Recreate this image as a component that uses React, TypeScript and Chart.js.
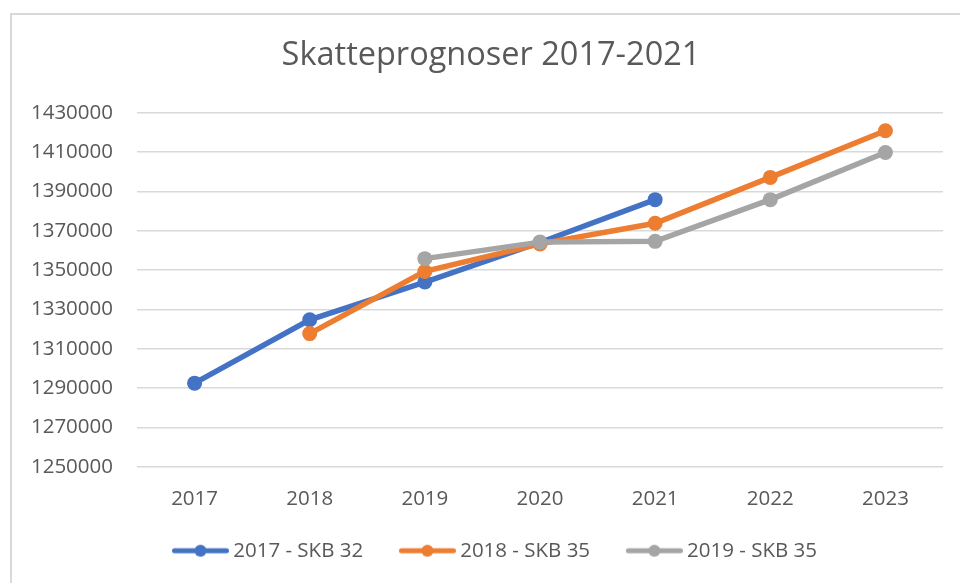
import React, { useEffect, useRef } from "react";
import { Chart, registerables } from "chart.js";

Chart.register(...registerables);

const categories = ["2017", "2018", "2019", "2020", "2021", "2022", "2023"];
const skb2017_32 = [1292500, 1324700, 1343900, 1364000, 1385800, null, null];
const skb2018_35 = [null, 1317700, 1349300, 1363300, 1373800, 1397100, 1420800];
const skb2019_35 = [null, null, 1355800, 1364200, 1364600, 1385800, 1409800];
const seriesNames = ["2017 - SKB 32", "2018 - SKB 35", "2019 - SKB 35"];
const seriesColors = ["#4472C4", "#ED7D31", "#A5A5A5"];
const yMin = 1250000;
const yMax = 1430000;
const yStep = 20000;
const chartTitle = "Skatteprognoser 2017-2021";

const FONT = "'Open Sans', 'Noto Sans', sans-serif";
const TEXT = "#595959";

// legend marker: line with a dot, drawn in the right part of a wider transparent image
function makeLegendImage(color: string): HTMLCanvasElement {
  const c = document.createElement("canvas");
  c.width = 70;
  c.height = 16;
  const ctx = c.getContext("2d")!;
  ctx.strokeStyle = color;
  ctx.lineWidth = 5;
  ctx.lineCap = "round";
  ctx.beginPath();
  ctx.moveTo(15.5, 8);
  ctx.lineTo(67.5, 8);
  ctx.stroke();
  ctx.fillStyle = color;
  ctx.beginPath();
  ctx.arc(41.5, 8, 6, 0, Math.PI * 2);
  ctx.fill();
  return c;
}

export default function App() {
  const ref = useRef<HTMLCanvasElement | null>(null);

  useEffect(() => {
    if (!ref.current) return;
    const seriesData = [skb2017_32, skb2018_35, skb2019_35];
    const images = seriesColors.map(makeLegendImage);
    const chart = new Chart(ref.current, {
      type: "line",
      data: {
        labels: categories,
        datasets: seriesData.map((d, i) => ({
          label: seriesNames[i],
          data: d,
          yAxisID: "y",
          borderColor: seriesColors[i],
          backgroundColor: seriesColors[i],
          borderWidth: 5.5,
          pointRadius: 7.5,
          pointBorderWidth: 0,
          pointBackgroundColor: seriesColors[i],
          pointHoverRadius: 7.5,
          tension: 0,
          spanGaps: false,
          order: 3 - i,
        })),
      },
      options: {
        animation: false,
        responsive: false,
        maintainAspectRatio: false,
        events: [],
        layout: { padding: 0 },
        plugins: {
          tooltip: { enabled: false },
          title: {
            display: true,
            text: chartTitle,
            color: TEXT,
            font: { family: FONT, size: 32.5, weight: "normal", lineHeight: 1.2 },
            padding: { top: 36.5, bottom: 37.2 },
          },
          legend: {
            position: "bottom",
            labels: {
              usePointStyle: true,
              pointStyleWidth: 58,
              padding: 28.75,
              color: TEXT,
              font: { family: FONT, size: 20.5 },
              generateLabels: () =>
                seriesNames.map((name, i) => ({
                  text: name,
                  pointStyle: images[i],
                  fillStyle: seriesColors[i],
                  strokeStyle: seriesColors[i],
                  lineWidth: 0,
                  hidden: false,
                  datasetIndex: i,
                  fontColor: TEXT,
                })),
            },
          },
        },
        scales: {
          x: {
            offset: true,
            grid: { display: false, drawTicks: false },
            border: { display: false },
            ticks: {
              color: TEXT,
              font: { family: FONT, size: 20.5 },
              padding: 20.2,
              maxRotation: 0,
            },
            afterFit: (s: any) => {
              s.height = 45;
            },
          },
          y: {
            position: "left",
            min: yMin,
            max: yMax,
            grid: { color: "#D9D9D9", lineWidth: 1.6, drawTicks: false },
            border: { display: false },
            ticks: {
              stepSize: yStep,
              color: TEXT,
              font: { family: FONT, size: 20.5 },
              padding: 24,
              callback: (v: any) => String(v),
            },
            afterFit: (s: any) => {
              s.width = 137;
            },
          },
          spacer: {
            position: "right",
            display: true,
            grid: { display: false, drawTicks: false },
            border: { display: false },
            ticks: { display: false },
            afterFit: (s: any) => {
              s.width = 39;
            },
          },
        },
      } as any,
    });
    return () => chart.destroy();
  }, []);

  return (
    <div
      style={{
        position: "fixed",
        left: 0,
        top: 0,
        width: 960,
        height: 583,
        overflow: "hidden",
        background: "#fff",
      }}
    >
      <div
        style={{
          position: "absolute",
          left: 10,
          top: 13,
          width: 980,
          height: 600,
          border: "2px solid #D9D9D9",
          background: "#fff",
        }}
      />
      <canvas
        ref={ref}
        width={982}
        height={571}
        style={{ position: "absolute", left: 0, top: 0, width: 982, height: 571 }}
      />
    </div>
  );
}
